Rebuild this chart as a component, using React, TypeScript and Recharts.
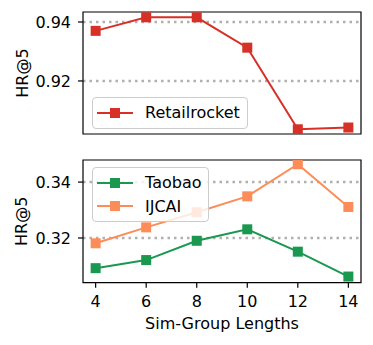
import { LineChart, Line, XAxis, YAxis, CartesianGrid, Legend, ReferenceArea } from 'recharts'

const lengths = [4, 6, 8, 10, 12, 14]
const retailrocket = [0.937, 0.9416, 0.9416, 0.9313, 0.9036, 0.9042]
const taobao = [0.3092, 0.3121, 0.319, 0.3231, 0.3151, 0.3062]
const ijcai = [0.3181, 0.3238, 0.3292, 0.3349, 0.3464, 0.3311]
const topTicks = [0.92, 0.94]
const bottomTicks = [0.32, 0.34]
const xDomain = [3.5, 14.5]
const topDomain = [0.902, 0.9434]
const bottomDomain = [0.304, 0.3479]
const legendOrder = ['Retailrocket', 'Taobao', 'IJCAI']

const RED = '#d73027'
const GREEN = '#1a9850'
const ORANGE = '#fc8d59'
const FONT = '"DejaVu Sans", sans-serif'

const topData = lengths.map((len, i) => ({ len, retailrocket: retailrocket[i] }))
const bottomData = lengths.map((len, i) => ({ len, taobao: taobao[i], ijcai: ijcai[i] }))

const squareDot = (color: string) => (p: any) => (
  <rect key={`d-${p.index}`} x={p.cx - 5} y={p.cy - 5} width={10} height={10} fill={color} />
)

const renderLegend = (props: any) => {
  const items = [...(props.payload || [])].sort(
    (a: any, b: any) => legendOrder.indexOf(a.value) - legendOrder.indexOf(b.value)
  )
  return (
    <div
      style={{
        border: '1px solid #cccccc',
        borderRadius: 4,
        background: 'rgba(255,255,255,0.8)',
        padding: '3px 7px 3px 4px',
        fontFamily: FONT,
        fontSize: 16,
        color: '#000',
      }}
    >
      {items.map((e: any) => (
        <div key={e.value} style={{ display: 'flex', alignItems: 'center', height: 23.5 }}>
          <svg width={36} height={12} style={{ display: 'block' }}>
            <line x1={0} x2={36} y1={6} y2={6} stroke={e.color} strokeWidth={2} />
            <rect x={13} y={1} width={10} height={10} fill={e.color} />
          </svg>
          <span style={{ marginLeft: 12 }}>{e.value}</span>
        </div>
      ))}
    </div>
  )
}

const yLabel = (props: any) => {
  const vb = props.viewBox
  const cy = vb.y + vb.height / 2
  return (
    <text x={27.5} y={cy} transform={`rotate(-90, 27.5, ${cy})`} textAnchor="middle" fontSize={16} fill="#000">
      HR@5
    </text>
  )
}

const xLabel = (props: any) => {
  const vb = props.viewBox
  return (
    <text x={vb.x + vb.width / 2} y={vb.y + 46.7} textAnchor="middle" fontSize={16} fill="#000">
      Sim-Group Lengths
    </text>
  )
}

const tickStyle = { fill: '#000', fontSize: 16 }
const axisStroke = { stroke: '#000', strokeWidth: 1.2 }

export default function App() {
  return (
    <div style={{ position: 'absolute', left: 0, top: 0, width: 373, height: 345, fontFamily: FONT, background: '#fff' }}>
      <LineChart width={373} height={145} data={topData} margin={{ top: 12, right: 12, left: 0, bottom: 11 }}>
        <CartesianGrid vertical={false} stroke="#b0b0b0" strokeWidth={2.5} strokeDasharray="2.5 4" horizontalValues={topTicks} />
        <XAxis dataKey="len" type="number" domain={xDomain} ticks={lengths} height={0} tick={false} tickLine={false} axisLine={false} />
        <YAxis
          type="number"
          domain={topDomain}
          ticks={topTicks}
          allowDataOverflow
          width={83}
          tick={tickStyle}
          tickSize={5}
          tickMargin={7}
          tickLine={axisStroke}
          axisLine={false}
          tickFormatter={(v: number) => v.toFixed(2)}
          label={{ content: yLabel }}
        />
        <ReferenceArea x1={xDomain[0]} x2={xDomain[1]} y1={topDomain[0]} y2={topDomain[1]} fill="none" stroke="#000" strokeWidth={1.2} />
        <Line
          dataKey="retailrocket"
          name="Retailrocket"
          stroke={RED}
          strokeWidth={2}
          dot={squareDot(RED)}
          activeDot={false}
          isAnimationActive={false}
        />
        <Legend
          layout="vertical"
          align="center"
          verticalAlign="middle"
          content={renderLegend}
          wrapperStyle={{ left: 92, top: 97, width: 'auto', height: 'auto' }}
        />
      </LineChart>
      <LineChart width={373} height={200} data={bottomData} margin={{ top: 15, right: 12, left: 0, bottom: 0 }}>
        <CartesianGrid vertical={false} stroke="#b0b0b0" strokeWidth={2.5} strokeDasharray="2.5 4" horizontalValues={bottomTicks} />
        <XAxis
          dataKey="len"
          type="number"
          domain={xDomain}
          ticks={lengths}
          height={62.3}
          tick={tickStyle}
          tickSize={5}
          tickMargin={8}
          tickLine={axisStroke}
          axisLine={false}
          label={{ content: xLabel }}
        />
        <YAxis
          type="number"
          domain={bottomDomain}
          ticks={bottomTicks}
          allowDataOverflow
          width={83}
          tick={tickStyle}
          tickSize={5}
          tickMargin={7}
          tickLine={axisStroke}
          axisLine={false}
          tickFormatter={(v: number) => v.toFixed(2)}
          label={{ content: yLabel }}
        />
        <ReferenceArea x1={xDomain[0]} x2={xDomain[1]} y1={bottomDomain[0]} y2={bottomDomain[1]} fill="none" stroke="#000" strokeWidth={1.2} />
        <Line
          dataKey="taobao"
          name="Taobao"
          stroke={GREEN}
          strokeWidth={2}
          dot={squareDot(GREEN)}
          activeDot={false}
          isAnimationActive={false}
        />
        <Line
          dataKey="ijcai"
          name="IJCAI"
          stroke={ORANGE}
          strokeWidth={2}
          dot={squareDot(ORANGE)}
          activeDot={false}
          isAnimationActive={false}
        />
        <Legend
          layout="vertical"
          align="center"
          verticalAlign="middle"
          content={renderLegend}
          wrapperStyle={{ left: 92, top: 22, width: 'auto', height: 'auto' }}
        />
      </LineChart>
    </div>
  )
}
